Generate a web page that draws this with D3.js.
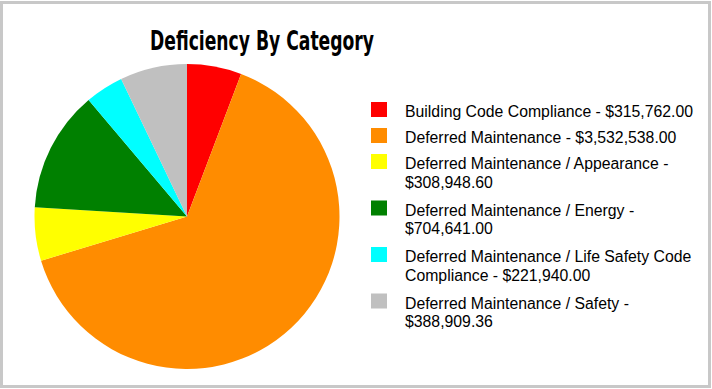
<!DOCTYPE html>
<html>
<head>
<meta charset="utf-8">
<script src="https://cdn.jsdelivr.net/npm/d3@7"></script>
<style>
  html, body { margin: 0; padding: 0; background: #fff; }
  svg { display: block; }
</style>
</head>
<body>
<svg id="chart" width="712" height="389"></svg>
<script>
// Deficiency totals by category
const categories = [
  "Building Code Compliance",
  "Deferred Maintenance",
  "Deferred Maintenance / Appearance",
  "Deferred Maintenance / Energy",
  "Deferred Maintenance / Life Safety Code Compliance",
  "Deferred Maintenance / Safety"
];
const amounts = [315762.00, 3532538.00, 308948.60, 704641.00, 221940.00, 388909.36];
const colors = ["#ff0000", "#ff8c00", "#ffff00", "#008000", "#00ffff", "#c0c0c0"];
// legend label line breaks
const legendLines = [
  ["Building Code Compliance - $315,762.00"],
  ["Deferred Maintenance - $3,532,538.00"],
  ["Deferred Maintenance / Appearance -", "$308,948.60"],
  ["Deferred Maintenance / Energy -", "$704,641.00"],
  ["Deferred Maintenance / Life Safety Code", "Compliance - $221,940.00"],
  ["Deferred Maintenance / Safety -", "$388,909.36"]
];
const title = "Deficiency By Category";

const svg = d3.select("#chart");
const W = 712, H = 389;

// frame
svg.append("rect")
  .attr("x", 1.5).attr("y", 2.5)
  .attr("width", W - 4).attr("height", H - 5)
  .attr("fill", "#fff")
  .attr("stroke", "#c8c8c8")
  .attr("stroke-width", 3);

// title, condensed bold face fitted to a fixed width
svg.append("text")
  .attr("x", 262).attr("y", 50)
  .attr("text-anchor", "middle")
  .attr("font-family", "'DejaVu Sans Condensed', 'Liberation Sans Narrow', sans-serif")
  .attr("font-weight", "bold")
  .attr("font-size", 26)
  .attr("textLength", 224)
  .attr("lengthAdjust", "spacingAndGlyphs")
  .attr("fill", "#000")
  .text(title);

// pie
const cx = 187, cy = 216.5, r = 152.5;
const pie = d3.pie().sort(null).value(d => d)(amounts);
const arc = d3.arc().innerRadius(0).outerRadius(r);
const color = d3.scaleOrdinal().domain(categories).range(colors);

svg.append("g")
  .attr("transform", `translate(${cx},${cy})`)
  .selectAll("path")
  .data(pie)
  .join("path")
  .attr("d", arc)
  .attr("fill", (d, i) => color(categories[i]));

// legend
const lx = 371, tx = 405, lineH = 18.5;
let y = 102;
const legend = svg.append("g").attr("font-family", "'Liberation Sans', Arial, sans-serif").attr("font-size", 15.8);
categories.forEach((c, i) => {
  const g = legend.append("g").attr("transform", `translate(0,${y})`);
  g.append("rect").attr("x", lx).attr("y", 0).attr("width", 16).attr("height", 15)
    .attr("fill", color(c));
  const t = g.append("text").attr("fill", "#000");
  legendLines[i].forEach((ln, k) => {
    t.append("tspan").attr("x", tx).attr("y", 15 + k * lineH).text(ln);
  });
  y += legendLines[i].length * 20.5 + 5.5;
});
</script>
</body>
</html>
